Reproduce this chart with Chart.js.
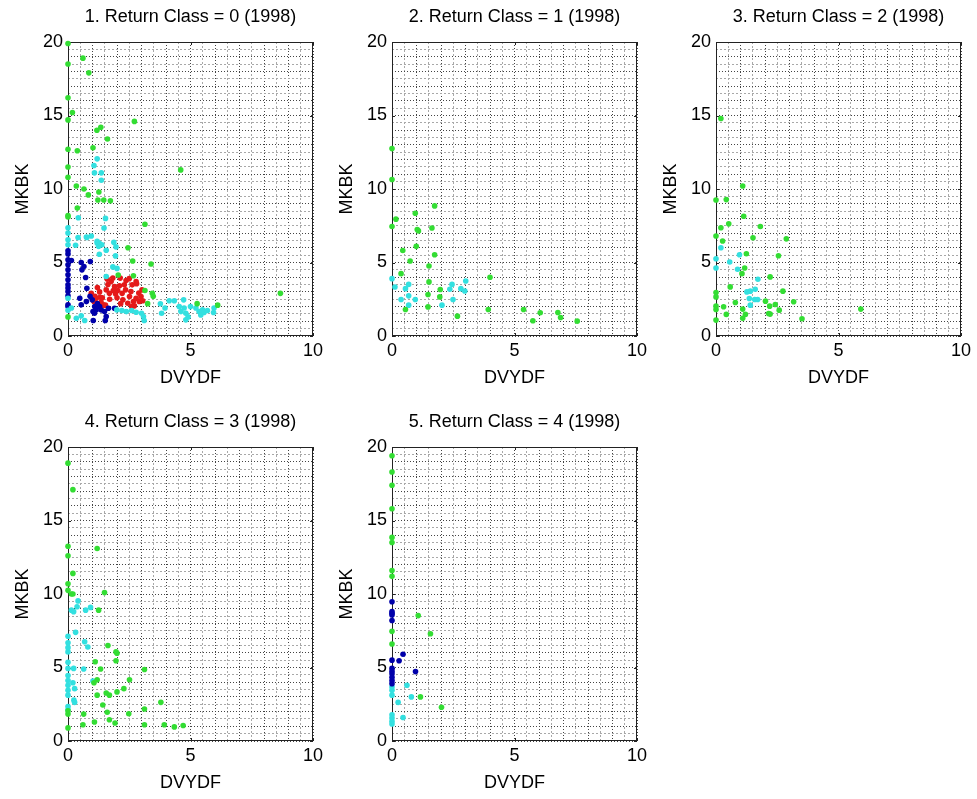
<!DOCTYPE html>
<html><head><meta charset="utf-8">
<script src="https://cdn.jsdelivr.net/npm/chart.js@4"></script>
<style>
html,body{margin:0;padding:0;background:#fff;overflow:hidden;width:977px;height:799px;position:relative;}
canvas{position:absolute;}
</style></head><body>
<script>
const titles = ['1. Return Class = 0 (1998)','2. Return Class = 1 (1998)','3. Return Class = 2 (1998)','4. Return Class = 3 (1998)','5. Return Class = 4 (1998)'];
const xLabel = 'DVYDF';
const yLabel = 'MKBK';
const xTicks = [0,5,10];
const yTicks = [0,5,10,15,20];

// Return Class = 0
const class0Green = [[0,19.9],[0,18.5],[0.61,18.9],[0.85,17.9],[0,16.2],[0.18,15.2],[0,14.7],[2.71,14.6],[1.18,14.0],[1.34,14.2],[1.61,13.4],[1.02,12.8],[0.38,12.6],[0,12.7],[0,11.5],[0,10.8],[4.6,11.3],[0.34,10.2],[0.65,10.0],[0.83,9.6],[1.26,9.8],[1.22,9.25],[1.46,9.25],[1.73,9.2],[0.38,8.7],[0,8.2],[0,8.1],[3.14,7.6],[2.45,6.0],[2.64,5.1],[3.39,4.9],[2.05,4.15],[2.67,4.1],[3.14,3.1],[3.44,2.9],[3.48,2.7],[3.25,2.2],[5.27,2.2],[6.11,2.1],[8.67,2.9],[0,1.3]];
const class0Cyan = [[1.19,12.05],[1.06,11.6],[1.08,11.1],[1.36,11.1],[1.36,10.6],[0.42,8.04],[1.53,8.0],[1.47,7.35],[0,7.36],[0,7.0],[0,6.55],[0,6.2],[0.41,6.7],[0.77,6.7],[0.95,6.8],[0.31,6.17],[1.19,6.33],[1.28,6.3],[1.38,6.2],[1.25,6.1],[1.56,5.83],[1.28,5.56],[1.96,6.06],[1.94,5.45],[1.83,4.7],[2.0,4.6],[1.56,4.05],[0,2.57],[0,1.75],[0.14,1.9],[0.54,1.37],[0.68,1.05],[0.34,1.2],[1.99,1.78],[2.2,1.73],[2.38,1.66],[2.6,1.73],[2.78,1.62],[3.0,1.55],[3.08,1.32],[3.11,1.05],[3.77,2.19],[3.82,1.55],[3.96,1.9],[4.13,2.4],[4.34,2.4],[4.54,2.0],[4.61,1.66],[4.72,2.46],[4.74,1.9],[4.81,1.55],[4.81,1.1],[4.9,1.3],[5.0,2.0],[5.22,1.9],[5.35,1.66],[5.49,1.78],[5.42,1.43],[5.55,1.6],[5.69,1.73],[5.94,1.6],[5.96,1.9],[1.87,6.37],[1.19,6.44],[0.75,6.73]];
const class0Blue = [[0,5.8],[0,5.58],[0,5.19],[0,4.85],[0,4.5],[0,4.16],[0,3.82],[0,3.48],[0,3.26],[0,3.03],[0,2.73],[0,2.12],[0,2.0],[0.14,5.14],[0.54,5.0],[0.65,4.73],[0.57,4.5],[0.91,5.07],[0.72,3.98],[0.77,3.25],[0.48,2.57],[0.54,2.12],[0.99,2.46],[1.09,2.0],[1.15,1.77],[1.02,1.66],[1.29,2.0],[1.36,1.77],[1.49,1.66],[1.56,1.32],[1.65,1.89],[1.03,1.05],[1.9,1.89],[0.75,2.34],[1.08,1.55],[1.52,1.05],[0.9,2.7],[1.2,2.2]];
const class0Red = [[0.95,2.9],[1.06,2.35],[1.15,2.57],[1.29,3.0],[1.31,2.64],[1.4,2.6],[1.45,2.1],[1.53,2.1],[1.56,3.14],[1.63,3.5],[1.69,2.9],[1.76,3.7],[1.83,3.95],[1.9,3.37],[1.94,2.87],[2.03,3.1],[2.1,3.42],[2.13,3.94],[2.21,2.9],[2.24,2.46],[2.3,3.48],[2.35,3.14],[2.44,2.23],[2.51,2.69],[2.57,3.03],[2.62,3.48],[2.67,2.35],[2.71,2.05],[2.78,2.57],[2.8,3.55],[2.89,2.92],[2.91,2.35],[2.98,2.69],[3.02,3.14],[2.78,3.71],[2.37,3.78],[1.6,3.87],[1.2,3.3],[1.7,2.5],[2.0,2.6],[1.85,3.1],[2.5,3.9],[1.35,2.3],[2.15,2.2],[1.1,2.7],[2.6,2.0],[3.05,2.4]];

// Return Class = 1
const class1Green = [[0,12.75],[0,10.65],[0.16,7.95],[0,7.45],[0.95,8.35],[1.74,8.85],[1.03,7.24],[1.08,7.15],[1.63,7.35],[0.44,5.82],[0.99,6.1],[0.74,5.1],[1.74,5.53],[1.51,4.76],[0.37,4.24],[1.51,3.68],[4.0,4.0],[1.97,3.16],[1.47,2.82],[1.95,2.66],[1.47,1.98],[0.55,1.8],[2.67,1.35],[3.93,1.8],[5.37,1.8],[6.05,1.58],[5.75,1.04],[6.77,1.6],[6.88,1.26],[7.56,1.01]];
const class1Cyan = [[0,3.9],[0.12,3.33],[0.68,3.51],[0.55,3.22],[0.68,2.73],[0.37,2.48],[0.95,2.48],[0.68,2.1],[2.04,2.1],[2.49,2.48],[2.36,3.18],[2.45,3.51],[2.81,3.22],[2.97,3.06],[3.01,3.74]];

// Return Class = 2
const class2Green = [[0.2,14.8],[1.09,10.2],[0,9.25],[0.42,9.28],[1.13,8.15],[1.81,7.45],[0.2,7.36],[0.52,7.63],[0,6.8],[0.27,6.46],[1.51,6.68],[2.87,6.61],[1.24,5.6],[2.55,5.46],[1.17,4.63],[1.06,4.24],[2.21,4.02],[0.58,3.34],[2.73,3.05],[0,2.96],[0,2.66],[2.02,2.37],[3.17,2.33],[0.79,2.28],[2.42,2.14],[2.19,2.03],[0,2.03],[0,1.8],[0.31,1.99],[1.09,1.83],[2.58,1.76],[5.91,1.83],[2.15,1.53],[2.21,1.49],[0.42,1.47],[1.2,1.47],[1.09,1.2],[3.51,1.17],[0,1.08]];
const class2Cyan = [[0.2,6.0],[0,5.26],[0,4.63],[0.56,5.03],[0.96,5.53],[0.88,4.54],[1.71,3.86],[1.26,3.0],[1.4,3.05],[1.6,3.18],[1.36,2.55],[1.58,2.48],[1.7,2.48],[1.4,2.1]];

// Return Class = 3
const class3Green = [[0,18.9],[0.2,17.1],[0,13.25],[0,12.6],[1.19,13.1],[0.2,11.4],[0,10.7],[0,10.25],[0.14,10.0],[0.2,10.0],[1.49,10.1],[1.25,8.9],[1.63,6.5],[1.96,6.06],[2.0,5.97],[1.96,5.46],[1.11,5.39],[1.33,4.9],[3.12,4.86],[2.51,4.16],[1.19,4.16],[1.06,3.96],[2.28,3.56],[2.0,3.34],[1.56,3.27],[1.69,3.12],[1.19,3.12],[3.79,2.63],[1.42,2.45],[3.12,2.18],[1.6,1.96],[2.48,1.85],[0.64,1.83],[0,1.83],[0,2.05],[1.69,1.45],[1.08,1.29],[1.92,1.22],[0.61,1.11],[3.12,1.11],[3.93,1.11],[4.34,0.96],[4.7,1.05],[0,0.89]];
const class3Cyan = [[0.41,9.53],[0.14,8.9],[0.23,8.8],[0.37,9.13],[0.72,8.9],[0.92,9.09],[0.31,7.39],[0,7.13],[0,6.68],[0,6.35],[0,6.06],[0.68,6.75],[0.81,6.39],[0,5.35],[0,4.94],[0.23,4.94],[0.64,4.9],[0,4.45],[0,4.12],[0,3.79],[0,3.45],[0,3.12],[0.2,3.96],[0.27,3.56],[1.02,4.08],[0.24,2.78],[0.27,2.63],[0,2.34],[0,2.12]];

// Return Class = 4
const class4Green = [[0,19.4],[0,18.3],[0,17.4],[0,15.8],[0,13.85],[0,13.5],[0,11.6],[0,11.2],[1.07,8.53],[1.57,7.3],[0,7.46],[0,6.6],[1.16,3.0],[2.02,2.3]];
const class4Blue = [[0,9.47],[0,8.8],[0,8.69],[0,8.57],[0,8.2],[0.45,5.9],[0.29,5.46],[0,5.5],[0,4.94],[0,4.74],[0,4.57],[0,4.34],[0,4.12],[0.96,4.72],[0,3.9]];
const class4Cyan = [[0,3.67],[0,3.45],[0,3.12],[0.61,3.79],[0.79,3.0],[0.25,2.63],[0,1.78],[0,1.56],[0,1.34],[0,1.16],[0.45,1.6]];

const colGreen = '#33dd33', colCyan = '#33e0e0', colBlue = '#0000aa', colRed = '#e41a1a';

const panels = [
  {title: titles[0], sets: [[class0Green,colGreen],[class0Cyan,colCyan],[class0Blue,colBlue],[class0Red,colRed]], left: 68, top: 42},
  {title: titles[1], sets: [[class1Green,colGreen],[class1Cyan,colCyan]], left: 392, top: 42},
  {title: titles[2], sets: [[class2Green,colGreen],[class2Cyan,colCyan]], left: 716, top: 42},
  {title: titles[3], sets: [[class3Green,colGreen],[class3Cyan,colCyan]], left: 68, top: 447},
  {title: titles[4], sets: [[class4Green,colGreen],[class4Blue,colBlue],[class4Cyan,colCyan]], left: 392, top: 447}
];

const PW = 245, PH = 294, L = 68, T = 42, B = 58, R = 40;
const FONT = 'Liberation Sans, Arial, sans-serif';

const framePlugin = {
  id: 'frame',
  beforeDatasetsDraw(chart) {
    const {ctx, chartArea: a, scales: {x, y}} = chart;
    ctx.save();
    ctx.strokeStyle = '#222';
    ctx.lineWidth = 1;
    ctx.strokeRect(Math.round(a.left) + 0.5, Math.round(a.top) + 0.5, Math.round(a.right - a.left) - 1, Math.round(a.bottom - a.top) - 1);
    ctx.beginPath();
    xTicks.forEach(v => {
      const px = Math.round(x.getPixelForValue(v)) + 0.5;
      ctx.moveTo(px, a.bottom); ctx.lineTo(px, a.bottom - 3);
      ctx.moveTo(px, a.top); ctx.lineTo(px, a.top + 3);
    });
    yTicks.forEach(v => {
      const py = Math.round(y.getPixelForValue(v)) + 0.5;
      ctx.moveTo(a.left, py); ctx.lineTo(a.left + 3, py);
      ctx.moveTo(a.right, py); ctx.lineTo(a.right - 3, py);
    });
    ctx.stroke();
    ctx.restore();
  }
};

function gridColor(c) { return (c.tick && Number.isInteger(c.tick.value)) ? '#444' : '#a8a8a8'; }
function gridDash(c) { return (c.tick && Number.isInteger(c.tick.value)) ? [1, 2] : [2, 2]; }

panels.forEach(p => {
  const cv = document.createElement('canvas');
  cv.width = L + PW + R; cv.height = T + PH + B;
  cv.style.left = (p.left - L) + 'px';
  cv.style.top = (p.top - T) + 'px';
  document.body.appendChild(cv);
  new Chart(cv, {
    type: 'scatter',
    data: {
      datasets: p.sets.map(([pts, col]) => ({
        data: pts.map(([a, b]) => ({x: a, y: b})),
        backgroundColor: col, borderColor: col, borderWidth: 0,
        pointRadius: 2.8, pointHoverRadius: 2.8, pointStyle: 'circle', clip: false
      }))
    },
    options: {
      responsive: false, animation: false, devicePixelRatio: 1,
      layout: {padding: {left: 0, right: R, top: 0, bottom: 0}},
      plugins: {
        legend: {display: false}, tooltip: {enabled: false},
        title: {display: true, fullSize: false, align: 'center', text: p.title, color: '#000', font: {family: FONT, size: 18, weight: 'normal'}, padding: {top: 6.2, bottom: 14.2}}
      },
      scales: {
        x: {
          type: 'linear', min: 0, max: 10,
          afterFit(s) { s.height = B; s.paddingLeft = 0; s.paddingRight = 0; },
          ticks: {stepSize: 0.5, autoSkip: false, maxTicksLimit: 100, maxRotation: 0, padding: 4.2, color: '#000',
            font: {family: FONT, size: 18},
            callback: v => xTicks.includes(v) ? String(v) : ''},
          grid: {color: gridColor, lineWidth: 1, drawTicks: false},
          border: {display: false, dash: gridDash},
          title: {display: true, text: xLabel, color: '#000', font: {family: FONT, size: 18}, padding: {top: 0, bottom: 5.2}}
        },
        y: {
          type: 'linear', min: 0, max: 20,
          afterFit(s) { s.width = L; },
          ticks: {stepSize: 0.5, autoSkip: false, maxTicksLimit: 100, padding: 5, color: '#000',
            font: {family: FONT, size: 18},
            callback: v => yTicks.includes(v) ? String(v) : ''},
          grid: {color: gridColor, lineWidth: 1, drawTicks: false},
          border: {display: false, dash: gridDash},
          title: {display: true, text: yLabel, color: '#000', font: {family: FONT, size: 18}, padding: {top: 12, bottom: 0}}
        }
      }
    },
    plugins: [framePlugin]
  });
});
</script>
</body></html>
